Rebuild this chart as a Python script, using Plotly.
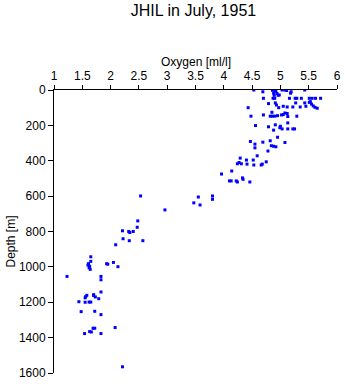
import plotly.graph_objects as go

title_text = "JHIL in July, 1951"
x_label = "Oxygen [ml/l]"
y_label = "Depth [m]"

oxygen = [
    4.53, 4.69, 4.86, 4.90, 4.92, 4.88, 4.94, 4.98, 4.89, 4.96, 5.03, 5.08, 5.11, 5.19, 5.18, 5.43,
    4.70, 4.87, 4.90, 5.16, 5.26, 5.29, 5.37, 5.51, 5.56, 5.62, 5.71,
    4.79, 4.91, 4.93, 4.97, 5.05, 5.12, 5.22, 5.27, 5.35, 5.43, 5.45, 5.51, 5.53, 5.55, 5.58, 5.61, 5.65,
    4.43, 4.48, 4.70, 4.82, 4.86, 4.90, 4.95, 5.02, 5.08, 5.12, 5.29, 4.85, 5.13, 5.05, 5.13,
    4.56, 4.79, 4.91, 5.00, 4.99, 5.03, 5.13, 5.22, 5.25, 4.88,
    4.95, 4.47, 4.55, 4.55, 4.69, 4.82, 4.84, 4.88, 4.92, 5.08, 4.78, 4.59, 4.29, 4.40, 4.52,
    4.75, 4.24, 4.27, 4.31, 4.41, 4.53, 4.66, 4.68, 4.14, 3.96, 4.10, 4.13, 4.22, 4.24, 4.33,
    4.34, 4.46,
    3.55, 3.80, 3.80, 3.58, 2.53, 3.47, 2.96, 2.48, 2.47, 2.21, 2.32, 2.34, 2.40, 2.22, 2.33,
    2.57, 2.09,
    1.65, 1.65, 1.61, 1.60, 1.63, 1.62, 1.64, 1.93, 1.95, 2.05, 2.13, 1.23, 1.83, 1.83, 1.83,
    1.70, 1.70, 1.73, 1.79, 1.58, 1.56, 1.55, 1.44, 1.55, 1.62, 1.65, 1.48, 1.72, 1.83, 1.69,
    1.72, 2.08, 1.54, 1.63, 1.66, 1.83, 2.21,
]
depth = [
    0, 10, 2, 2, 8, 18, 20, 28, 30, 30, 0, 0, 3, 10, 18, 0,
    47, 47, 47, 47, 47, 47, 47, 47, 47, 47, 47,
    77, 73, 85, 100, 92, 96, 96, 73, 96, 73, 92, 70, 66, 80, 90, 98, 103,
    100, 148, 141, 148, 148, 148, 145, 141, 130, 133, 148, 126, 186, 139, 150,
    201, 208, 197, 205, 213, 220, 220, 220, 220, 227,
    267, 291, 306, 327, 295, 287, 315, 318, 321, 297, 345, 372, 385, 396, 396,
    406, 417, 410, 417, 419, 424, 424, 419, 458, 475, 514, 514, 514, 520, 497,
    505, 520,
    605, 599, 618, 650, 599, 638, 678, 740, 776, 796, 800, 806, 800, 841, 852,
    852, 875,
    943, 969, 982, 990, 997, 1005, 1014, 982, 985, 975, 999, 1054, 1054, 1073, 1142,
    1157, 1162, 1170, 1180, 1161, 1168, 1175, 1197, 1200, 1199, 1199, 1253, 1251, 1270, 1347,
    1347, 1343, 1377, 1366, 1368, 1377, 1565,
]

x_ticks = [1, 1.5, 2, 2.5, 3, 3.5, 4, 4.5, 5, 5.5, 6]
y_ticks = [0, 200, 400, 600, 800, 1000, 1200, 1400, 1600]

FONT = "Liberation Sans, Arial, sans-serif"

fig = go.Figure()
fig.add_trace(go.Scatter(
    x=oxygen, y=depth, mode="markers",
    marker=dict(symbol="square", size=3, color="#0000ff", line=dict(width=0)),
    hoverinfo="skip", showlegend=False,
))

fig.update_layout(
    width=345, height=384,
    margin=dict(l=54, r=4, t=90, b=9),
    paper_bgcolor="white", plot_bgcolor="white",
    font=dict(family=FONT, size=12, color="black"),
    title=dict(text=title_text, x=0.493, xref="paper", xanchor="center",
               y=1 - 10 / 384, yanchor="middle", yref="container",
               font=dict(family=FONT, size=16, color="black")),
    xaxis=dict(side="top", range=[1, 6], tickvals=x_ticks,
               ticktext=[f"{v:g}" for v in x_ticks],
               ticks="outside", ticklen=4, tickwidth=1, tickcolor="black",
               showline=True, linecolor="black", linewidth=1,
               showgrid=False, zeroline=False, fixedrange=True,
               tickfont=dict(family=FONT, size=12)),
    yaxis=dict(range=[1600, 0], tickvals=y_ticks,
               ticktext=[str(v) for v in y_ticks],
               ticks="outside", ticklen=5, tickwidth=1, tickcolor="black",
               showline=True, linecolor="black", linewidth=1,
               showgrid=False, zeroline=False, fixedrange=True,
               tickfont=dict(family=FONT, size=12)),
    annotations=[
        dict(text=x_label, xref="paper", yref="paper", x=0.5, y=(375 - 62) / 285,
             xanchor="center", yanchor="middle", showarrow=False,
             font=dict(family=FONT, size=12)),
        dict(text=y_label, xref="paper", yref="paper", x=(10 - 54) / 287, y=(375 - 243) / 285,
             xanchor="center", yanchor="middle", textangle=-90, showarrow=False,
             font=dict(family=FONT, size=12)),
    ],
)

fig.write_html("out.html")
